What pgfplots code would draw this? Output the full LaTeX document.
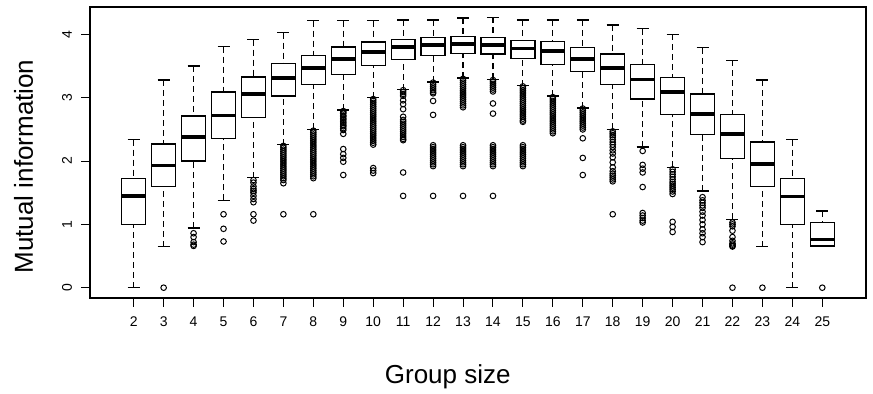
\documentclass[border=0pt]{standalone}
\usepackage{pgfplots}
\pgfplotsset{compat=1.18}
\usepgfplotslibrary{statistics}
\usepackage{fontspec}
\setmainfont{Liberation Sans}

\pgfplotsset{
  mybox/.style={
    black, solid, line width=1.3bp,
    mark=o, mark size=2.8bp, mark options={solid, line width=1bp},
    boxplot/draw direction=y,
    boxplot/box extend=0.8,
    boxplot/whisker extend=0.4,
    boxplot/every median/.style={line width=3.8bp},
    boxplot/draw/lower whisker/.code={%
      \draw[black, line width=1.1bp, dash pattern=on 6bp off 4bp]
        (boxplot cs:\pgfplotsboxplotvalue{lower whisker}) --
        (boxplot cs:\pgfplotsboxplotvalue{lower quartile});
      \draw[black, line width=1.4bp]
        (boxplot whisker cs:\pgfplotsboxplotvalue{lower whisker},0) --
        (boxplot whisker cs:\pgfplotsboxplotvalue{lower whisker},1);
    },
    boxplot/draw/upper whisker/.code={%
      \draw[black, line width=1.1bp, dash pattern=on 6bp off 4bp]
        (boxplot cs:\pgfplotsboxplotvalue{upper whisker}) --
        (boxplot cs:\pgfplotsboxplotvalue{upper quartile});
      \draw[black, line width=1.4bp]
        (boxplot whisker cs:\pgfplotsboxplotvalue{upper whisker},0) --
        (boxplot whisker cs:\pgfplotsboxplotvalue{upper whisker},1);
    },
  }
}
\newcommand\BP[6]{\addplot[mybox, boxplot prepared={draw position=#1, lower whisker=#2, lower quartile=#3, median=#4, upper quartile=#5, upper whisker=#6}]}

\begin{document}
\begin{tikzpicture}
\useasboundingbox (-90bp,-96bp) rectangle (783bp,298bp);
\begin{axis}[
  at={(0,0)}, anchor=south west,
  scale only axis, width=776bp, height=291bp,
  xmin=0.54, xmax=26.46, ymin=-0.163, ymax=4.434,
  xtick={2,3,...,25}, ytick={0,1,2,3,4},
  tick align=outside, tick pos=left,
  major tick length=8.5bp,
  every tick/.style={black, line width=1bp},
  axis line style={line width=1.1bp},
  /pgf/number format/assume math mode=true,
  tick label style={font=\fontsize{14bp}{16bp}\selectfont},
  xticklabel shift={7bp},
  yticklabel style={rotate=90, anchor=south},
  yticklabel shift={6bp},
  xlabel={Group size},
  ylabel={Mutual information},
  every axis x label/.style={at={(axis description cs:0.4610,-0.2931)}, anchor=base, font=\fontsize{26bp}{30bp}\selectfont},
  every axis y label/.style={at={(axis description cs:-0.07345,0.4519)}, rotate=90, anchor=base, font=\fontsize{26bp}{30bp}\selectfont},
]
\BP{2}{0.00}{1.00}{1.45}{1.72}{2.34} coordinates {};
\BP{3}{0.65}{1.60}{1.93}{2.27}{3.28} table[header=false, row sep=\\, y index=0] {0\\};
\BP{4}{0.94}{2.00}{2.38}{2.71}{3.50} table[header=false, row sep=\\, y index=0] {0.86\\0.80\\0.72\\0.68\\0.66\\};
\BP{5}{1.38}{2.36}{2.72}{3.09}{3.81} table[header=false, row sep=\\, y index=0] {1.16\\0.93\\0.73\\};
\BP{6}{1.74}{2.69}{3.06}{3.33}{3.92} table[header=false, row sep=\\, y index=0] {1.70\\1.66\\1.60\\1.56\\1.53\\1.50\\1.45\\1.40\\1.35\\1.16\\1.06\\};
\BP{7}{2.26}{3.03}{3.31}{3.54}{4.03} table[header=false, row sep=\\, y index=0] {2.24\\2.21\\2.18\\2.15\\2.12\\2.09\\2.06\\2.03\\2.00\\1.97\\1.94\\1.91\\1.88\\1.85\\1.82\\1.79\\1.76\\1.73\\1.70\\1.65\\1.16\\};
\BP{8}{2.50}{3.21}{3.47}{3.67}{4.22} table[header=false, row sep=\\, y index=0] {2.48\\2.45\\2.42\\2.39\\2.36\\2.33\\2.30\\2.27\\2.24\\2.21\\2.18\\2.15\\2.12\\2.09\\2.06\\2.03\\2.00\\1.97\\1.94\\1.91\\1.88\\1.85\\1.82\\1.79\\1.76\\1.73\\1.16\\};
\BP{9}{2.81}{3.37}{3.61}{3.80}{4.22} table[header=false, row sep=\\, y index=0] {2.79\\2.77\\2.75\\2.72\\2.70\\2.67\\2.65\\2.62\\2.60\\2.57\\2.55\\2.52\\2.49\\2.43\\2.19\\2.11\\2.05\\1.99\\1.78\\};
\BP{10}{3.00}{3.51}{3.72}{3.88}{4.22} table[header=false, row sep=\\, y index=0] {2.98\\2.95\\2.92\\2.89\\2.86\\2.83\\2.80\\2.77\\2.74\\2.71\\2.68\\2.65\\2.62\\2.59\\2.56\\2.53\\2.50\\2.47\\2.44\\2.41\\2.38\\2.35\\2.32\\2.29\\2.26\\1.89\\1.85\\1.81\\};
\BP{11}{3.13}{3.61}{3.80}{3.92}{4.23} table[header=false, row sep=\\, y index=0] {3.12\\3.09\\3.06\\3.03\\2.96\\2.90\\2.82\\2.70\\2.65\\2.62\\2.59\\2.56\\2.53\\2.50\\2.47\\2.44\\2.41\\2.38\\2.35\\2.33\\1.82\\1.45\\};
\BP{12}{3.25}{3.67}{3.84}{3.95}{4.23} table[header=false, row sep=\\, y index=0] {3.24\\3.21\\3.18\\3.15\\3.12\\3.09\\3.07\\2.95\\2.73\\2.25\\2.22\\2.19\\2.16\\2.13\\2.10\\2.07\\2.04\\2.01\\1.98\\1.95\\1.92\\1.45\\};
\BP{13}{3.31}{3.70}{3.85}{3.97}{4.26} table[header=false, row sep=\\, y index=0] {3.30\\3.27\\3.24\\3.21\\3.18\\3.15\\3.12\\3.09\\3.06\\3.03\\3.00\\2.97\\2.94\\2.91\\2.88\\2.85\\2.25\\2.22\\2.19\\2.16\\2.13\\2.10\\2.07\\2.04\\2.01\\1.98\\1.95\\1.92\\1.45\\};
\BP{14}{3.29}{3.69}{3.84}{3.95}{4.27} table[header=false, row sep=\\, y index=0] {3.28\\3.25\\3.22\\3.19\\3.16\\3.13\\3.10\\2.91\\2.75\\2.25\\2.22\\2.19\\2.16\\2.13\\2.10\\2.07\\2.04\\2.01\\1.98\\1.95\\1.92\\1.45\\};
\BP{15}{3.19}{3.62}{3.78}{3.90}{4.23} table[header=false, row sep=\\, y index=0] {3.18\\3.15\\3.12\\3.09\\3.06\\3.03\\3.00\\2.97\\2.94\\2.91\\2.88\\2.85\\2.82\\2.79\\2.76\\2.73\\2.70\\2.67\\2.64\\2.62\\2.25\\2.22\\2.19\\2.16\\2.13\\2.10\\2.07\\2.04\\2.01\\1.98\\1.95\\1.92\\};
\BP{16}{3.03}{3.53}{3.74}{3.89}{4.23} table[header=false, row sep=\\, y index=0] {3.01\\2.98\\2.95\\2.92\\2.89\\2.86\\2.83\\2.80\\2.77\\2.74\\2.71\\2.68\\2.65\\2.62\\2.59\\2.56\\2.53\\2.50\\2.47\\2.44\\};
\BP{17}{2.84}{3.41}{3.61}{3.79}{4.23} table[header=false, row sep=\\, y index=0] {2.83\\2.80\\2.77\\2.74\\2.71\\2.68\\2.65\\2.62\\2.59\\2.56\\2.53\\2.50\\2.36\\2.05\\1.78\\};
\BP{18}{2.50}{3.21}{3.47}{3.69}{4.15} table[header=false, row sep=\\, y index=0] {2.47\\2.44\\2.41\\2.38\\2.34\\2.30\\2.26\\2.22\\2.17\\2.12\\2.06\\1.98\\1.90\\1.84\\1.80\\1.77\\1.74\\1.71\\1.68\\1.16\\};
\BP{19}{2.22}{2.98}{3.29}{3.53}{4.09} table[header=false, row sep=\\, y index=0] {2.16\\1.94\\1.88\\1.82\\1.59\\1.18\\1.14\\1.10\\1.06\\1.03\\};
\BP{20}{1.90}{2.74}{3.09}{3.32}{4.00} table[header=false, row sep=\\, y index=0] {1.87\\1.83\\1.79\\1.75\\1.71\\1.67\\1.64\\1.61\\1.58\\1.55\\1.52\\1.48\\1.04\\0.96\\0.88\\};
\BP{21}{1.53}{2.42}{2.75}{3.06}{3.79} table[header=false, row sep=\\, y index=0] {1.43\\1.38\\1.34\\1.30\\1.26\\1.20\\1.14\\1.07\\1.00\\0.92\\0.86\\0.80\\0.72\\};
\BP{22}{1.08}{2.04}{2.43}{2.74}{3.59} table[header=false, row sep=\\, y index=0] {1.03\\1.00\\0.97\\0.90\\0.80\\0.74\\0.70\\0.68\\0.66\\0.65\\0\\};
\BP{23}{0.65}{1.60}{1.95}{2.30}{3.28} table[header=false, row sep=\\, y index=0] {0\\};
\BP{24}{0.00}{1.00}{1.44}{1.73}{2.34} coordinates {};
\BP{25}{0.66}{0.66}{0.76}{1.03}{1.21} table[header=false, row sep=\\, y index=0] {0\\};
\end{axis}
\end{tikzpicture}
\end{document}
